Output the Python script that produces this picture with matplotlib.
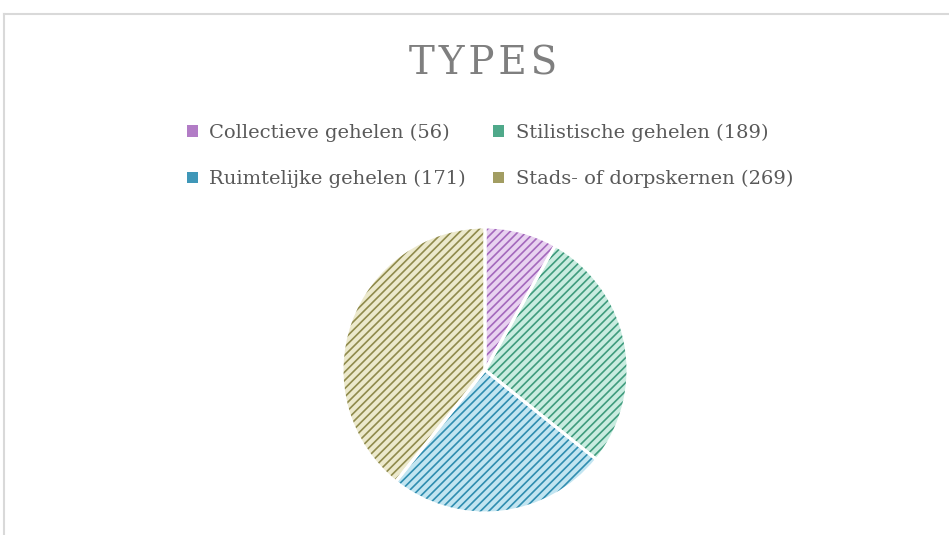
import matplotlib.pyplot as plt
from matplotlib.lines import Line2D
from matplotlib.patches import Patch

labels = ['Collectieve gehelen', 'Stilistische gehelen', 'Ruimtelijke gehelen', 'Stads- of dorpskernen']
counts = [56, 189, 171, 269]
face_colors = ['#e8d2f0', '#c9ece0', '#c2e5f1', '#ece9cc']
hatch_colors = ['#a468bc', '#3f9c7d', '#2f8db0', '#8f8a4c']
legend_colors = ['#b27cc6', '#4fa98a', '#3f97b8', '#a29d62']

W, H = 949, 535
fig = plt.figure(figsize=(W / 100, H / 100), dpi=100)
plt.rcParams['hatch.linewidth'] = 1.2

# light frame of the chart area (left and top edges visible)
fig.add_artist(Line2D([4 / W, 4 / W], [0, 1 - 14 / H], color='#d9d9d9', lw=1.5))
fig.add_artist(Line2D([4 / W, 1], [1 - 14 / H, 1 - 14 / H], color='#d9d9d9', lw=1.5))

# pie axes: centre (485, 370), radius ~143 px
r = 143
ax = fig.add_axes([(485 - r) / W, 1 - (370 + r) / H, 2 * r / W, 2 * r / H])
wedges, _ = ax.pie(counts, startangle=90, counterclock=False, colors=face_colors,
                   wedgeprops=dict(linewidth=0, hatch='////'))
for w, hc in zip(wedges, hatch_colors):
    w.set_edgecolor(hc)
ax.pie(counts, startangle=90, counterclock=False,
       wedgeprops=dict(fill=False, edgecolor='white', linewidth=2.2))
ax.set_xlim(-1, 1)
ax.set_ylim(-1, 1)
ax.set_aspect('equal')

fig.text(483 / W, 1 - 64 / H, '\u200aT\u200aY\u200aP\u200aE\u200aS\u200a', ha='center', va='center',
         fontsize=28, color='#7f7f7f', family='DejaVu Serif')

# legend (row-wise order achieved by column-first handle order)
order = [0, 2, 1, 3]
handles = [Patch(facecolor=legend_colors[i], edgecolor='none') for i in order]
texts = [f'{labels[i]} ({counts[i]})' for i in order]
leg = fig.legend(handles, texts, ncol=2, loc='center', bbox_to_anchor=(490 / W, 1 - 156 / H),
                 frameon=False, handlelength=0.55, handleheight=0.55, handletextpad=0.6,
                 columnspacing=1.4, labelspacing=1.45,
                 prop=dict(family='DejaVu Serif', size=14))
for t in leg.get_texts():
    t.set_color('#595959')

fig.savefig('out.png', dpi=100)
